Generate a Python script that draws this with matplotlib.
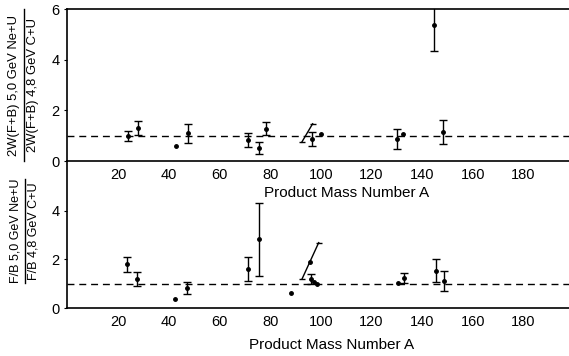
import numpy as np
import matplotlib
matplotlib.use("Agg")
import matplotlib.pyplot as plt
from matplotlib.lines import Line2D

plt.rcParams['font.family'] = ['Liberation Sans', 'DejaVu Sans']

# top panel: 2W(F+B) ratio
top_x = [23.8, 27.8, 47.8, 71.1, 75.6, 78.5, 96.5, 130.2, 144.6, 148.2]
top_y = [1.0, 1.29, 1.1, 0.84, 0.52, 1.28, 0.88, 0.87, 5.35, 1.15]
top_err = [0.2, 0.28, 0.37, 0.28, 0.23, 0.24, 0.28, 0.4, 1.02, 0.47]
top_pts_x = [42.8, 100.0, 132.3]
top_pts_y = [0.6, 1.07, 1.07]
top_slant_x = [92.5, 96.8]
top_slant_y = [0.74, 1.47]

# bottom panel: F/B ratio
bot_x = [23.4, 27.6, 47.2, 71.3, 75.7, 96.2, 132.8, 145.6, 148.6]
bot_y = [1.8, 1.19, 0.81, 1.6, 2.83, 1.2, 1.22, 1.53, 1.11]
bot_err = [0.31, 0.3, 0.25, 0.5, 1.5, 0.2, 0.2, 0.48, 0.42]
bot_pts_x = [42.5, 88.3, 97.2, 98.5, 130.4]
bot_pts_y = [0.36, 0.6, 1.05, 1.0, 1.02]
bot_slant_x = [92.6, 99.2]
bot_slant_y = [1.19, 2.69]
bot_slant_pt = (95.9, 1.91)

xticks = [20, 40, 60, 80, 100, 120, 140, 160, 180]
yticks = [0, 2, 4, 6]

W, H = 569, 356
fig = plt.figure(figsize=(W / 100, H / 100), dpi=100)

left = 67.4 / W
ax1 = fig.add_axes([left, 1 - 161 / H, 1 - left, 152 / H])
ax2 = fig.add_axes([left, 1 - 308 / H, 1 - left, 147 / H])

err_kw = dict(fmt='o', color='black', ms=2.5, capsize=2.6, elinewidth=1.0, capthick=1.0)


def style(ax, ymax, ticks, top_spine):
    ax.set_xlim(0, 198)
    ax.set_ylim(0, ymax)
    ax.patch.set_visible(False)
    ax.spines['right'].set_visible(False)
    ax.spines['top'].set_visible(top_spine)
    for s in ('left', 'bottom', 'top'):
        ax.spines[s].set_linewidth(1.2)
    ax.set_xticks(xticks)
    ax.set_yticks(ticks)
    ax.tick_params(axis='x', length=0, pad=5, labelsize=10.5)
    ax.tick_params(axis='y', length=2.5, pad=3, labelsize=10.5)
    ax.axhline(1.0, color='black', lw=1.0, ls=(0, (5, 3.5)), zorder=1)


style(ax1, 6.0, yticks, True)
style(ax2, 6.05, yticks[:3], False)

ax1.errorbar(top_x, top_y, yerr=top_err, **err_kw)
ax1.plot(top_pts_x, top_pts_y, 'o', color='black', ms=2.5)
ax1.plot(top_slant_x, top_slant_y, color='black', lw=1.0)
ax1.plot(top_slant_x, top_slant_y, '_', color='black', ms=5, mew=1.0)

ax2.errorbar(bot_x, bot_y, yerr=bot_err, **err_kw)
ax2.plot(bot_pts_x, bot_pts_y, 'o', color='black', ms=2.5)
ax2.plot(bot_slant_x, bot_slant_y, color='black', lw=1.0)
ax2.plot(bot_slant_x, bot_slant_y, '_', color='black', ms=5, mew=1.0)
ax2.plot([bot_slant_pt[0]], [bot_slant_pt[1]], 'o', color='black', ms=2.5)

fig.text(347 / W, 1 - 193 / H, 'Product Mass Number A', ha='center', va='center', fontsize=11)
fig.text(332 / W, 1 - 345 / H, 'Product Mass Number A', ha='center', va='center', fontsize=11)


def frac_label(num, den, xn, xd, xb, yc, half, size):
    fig.text(xn / W, 1 - yc / H, num, rotation=90, ha='center', va='center', fontsize=size)
    fig.text(xd / W, 1 - yc / H, den, rotation=90, ha='center', va='center', fontsize=size)
    fig.add_artist(Line2D([xb / W, xb / W], [1 - (yc - half) / H, 1 - (yc + half) / H],
                          color='black', lw=1.0, transform=fig.transFigure))


frac_label('2W(F+B) 5,0 GeV Ne+U', '2W(F+B) 4,8 GeV C+U', 14.5, 33, 24, 85, 76, 9.4)
frac_label('F/B 5,0 GeV Ne+U', 'F/B 4,8 GeV C+U', 16, 33, 24.5, 231, 52, 9.0)

fig.savefig('out.png', dpi=100)
